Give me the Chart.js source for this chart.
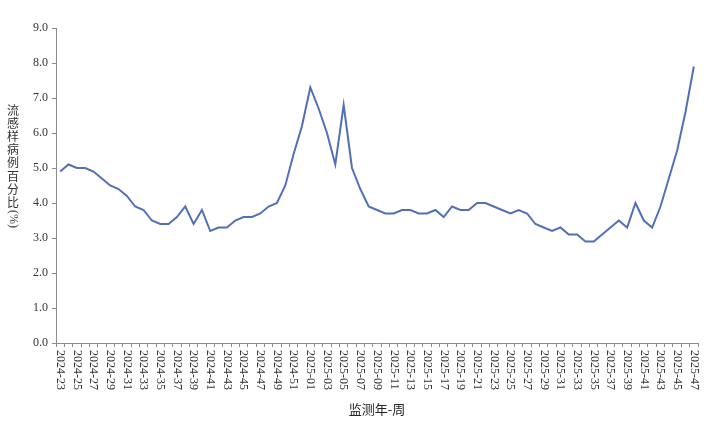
<!DOCTYPE html>
<html>
<head>
<meta charset="utf-8">
<script src="https://cdn.jsdelivr.net/npm/chart.js"></script>
<style>
  html, body { margin: 0; padding: 0; background: #fff; }
  #chart { display: block; }
</style>
</head>
<body>
<canvas id="chart" width="719" height="421"></canvas>
<script>
// weekly labels, 2024-23 .. 2025-47
const weeks = [
    '2024-23', '2024-24', '2024-25', '2024-26', '2024-27', '2024-28', '2024-29', '2024-30',
    '2024-31', '2024-32', '2024-33', '2024-34', '2024-35', '2024-36', '2024-37', '2024-38',
    '2024-39', '2024-40', '2024-41', '2024-42', '2024-43', '2024-44', '2024-45', '2024-46',
    '2024-47', '2024-48', '2024-49', '2024-50', '2024-51', '2024-52',
    '2025-01', '2025-02', '2025-03', '2025-04', '2025-05', '2025-06', '2025-07', '2025-08',
    '2025-09', '2025-10', '2025-11', '2025-12', '2025-13', '2025-14', '2025-15', '2025-16',
    '2025-17', '2025-18', '2025-19', '2025-20', '2025-21', '2025-22', '2025-23', '2025-24',
    '2025-25', '2025-26', '2025-27', '2025-28', '2025-29', '2025-30', '2025-31', '2025-32',
    '2025-33', '2025-34', '2025-35', '2025-36', '2025-37', '2025-38', '2025-39', '2025-40',
    '2025-41', '2025-42', '2025-43', '2025-44', '2025-45', '2025-46', '2025-47'
];

// ILI percentage (%)
const iliPercent = [
    4.9, 5.1, 5.0, 5.0, 4.9, 4.7, 4.5, 4.4, 4.2, 3.9,
    3.8, 3.5, 3.4, 3.4, 3.6, 3.9, 3.4, 3.8, 3.2, 3.3,
    3.3, 3.5, 3.6, 3.6, 3.7, 3.9, 4.0, 4.5, 5.4, 6.2,
    7.3, 6.7, 6.0, 5.1, 6.8, 5.0, 4.4, 3.9, 3.8, 3.7,
    3.7, 3.8, 3.8, 3.7, 3.7, 3.8, 3.6, 3.9, 3.8, 3.8,
    4.0, 4.0, 3.9, 3.8, 3.7, 3.8, 3.7, 3.4, 3.3, 3.2,
    3.3, 3.1, 3.1, 2.9, 2.9, 3.1, 3.3, 3.5, 3.3, 4.0,
    3.5, 3.3, 3.9, 4.7, 5.5, 6.6, 7.9
];

const yTitleChars = ['流', '感', '样', '病', '例', '百', '分', '比'];
const yTitleUnit = '(%)';
const xTitle = '监测年-周';

const serif = '"Liberation Serif", "Times New Roman", serif';
const cjk = '"Noto Sans CJK SC", sans-serif';
const textColor = '#333333';
const axisColor = '#8c8c8c';

// x tick labels drawn top-to-bottom (rotated clockwise), every 2nd week
const xLabelPlugin = {
    id: 'xLabels',
    afterDraw(chart) {
        const ctx = chart.ctx;
        const xs = chart.scales.x;
        ctx.save();
        ctx.font = '12px ' + serif;
        ctx.fillStyle = textColor;
        ctx.textAlign = 'left';
        ctx.textBaseline = 'middle';
        weeks.forEach((w, i) => {
            if (i % 2 !== 0) return;
            const x = xs.getPixelForValue(i);
            ctx.save();
            ctx.translate(x, xs.top + 7);
            ctx.rotate(Math.PI / 2);
            ctx.fillText(w, 0, 0);
            ctx.restore();
        });
        ctx.restore();
    }
};

// vertical y-axis title with upright characters
const yTitlePlugin = {
    id: 'yTitle',
    afterDraw(chart) {
        const ctx = chart.ctx;
        ctx.save();
        ctx.fillStyle = textColor;
        ctx.textAlign = 'center';
        ctx.textBaseline = 'middle';
        ctx.font = '12px ' + cjk;
        yTitleChars.forEach((c, i) => {
            ctx.fillText(c, 13, 110 + i * 13.2);
        });
        ctx.translate(13, 219);
        ctx.rotate(Math.PI / 2);
        ctx.font = '12px ' + serif;
        ctx.fillText(yTitleUnit, 0, 0);
        ctx.restore();
    }
};

new Chart(document.getElementById('chart').getContext('2d'), {
    type: 'line',
    data: {
        labels: weeks,
        datasets: [{
            data: iliPercent,
            borderColor: '#5170b7',
            borderWidth: 2,
            pointRadius: 0,
            tension: 0,
            fill: false
        }]
    },
    options: {
        responsive: false,
        animation: false,
        layout: {
            padding: { left: 0, right: 21, top: 28, bottom: 0 }
        },
        plugins: {
            legend: { display: false },
            tooltip: { enabled: false }
        },
        scales: {
            x: {
                offset: true,
                grid: {
                    offset: true,
                    drawOnChartArea: false,
                    drawTicks: true,
                    tickLength: 4,
                    color: axisColor
                },
                border: { color: axisColor, width: 1 },
                ticks: {
                    autoSkip: false,
                    minRotation: 90,
                    maxRotation: 90,
                    color: 'rgba(0,0,0,0)',
                    font: { size: 12, family: serif },
                    callback: function(value, index) {
                        return index % 2 === 0 ? weeks[index] : '';
                    }
                },
                title: {
                    display: true,
                    text: xTitle,
                    color: '#222222',
                    font: { size: 13, family: cjk },
                    padding: { top: 0, bottom: 4 }
                },
                afterFit: function(scale) {
                    scale.height = 78;
                }
            },
            y: {
                min: 0,
                max: 9,
                grid: {
                    drawOnChartArea: false,
                    drawTicks: true,
                    tickLength: 4,
                    color: axisColor
                },
                border: { color: axisColor, width: 1 },
                ticks: {
                    stepSize: 1,
                    color: textColor,
                    padding: 4,
                    font: { size: 12, family: serif },
                    callback: function(v) {
                        return v.toFixed(1);
                    }
                },
                afterFit: function(scale) {
                    scale.width = 56;
                }
            }
        }
    },
    plugins: [xLabelPlugin, yTitlePlugin]
});
</script>
</body>
</html>
